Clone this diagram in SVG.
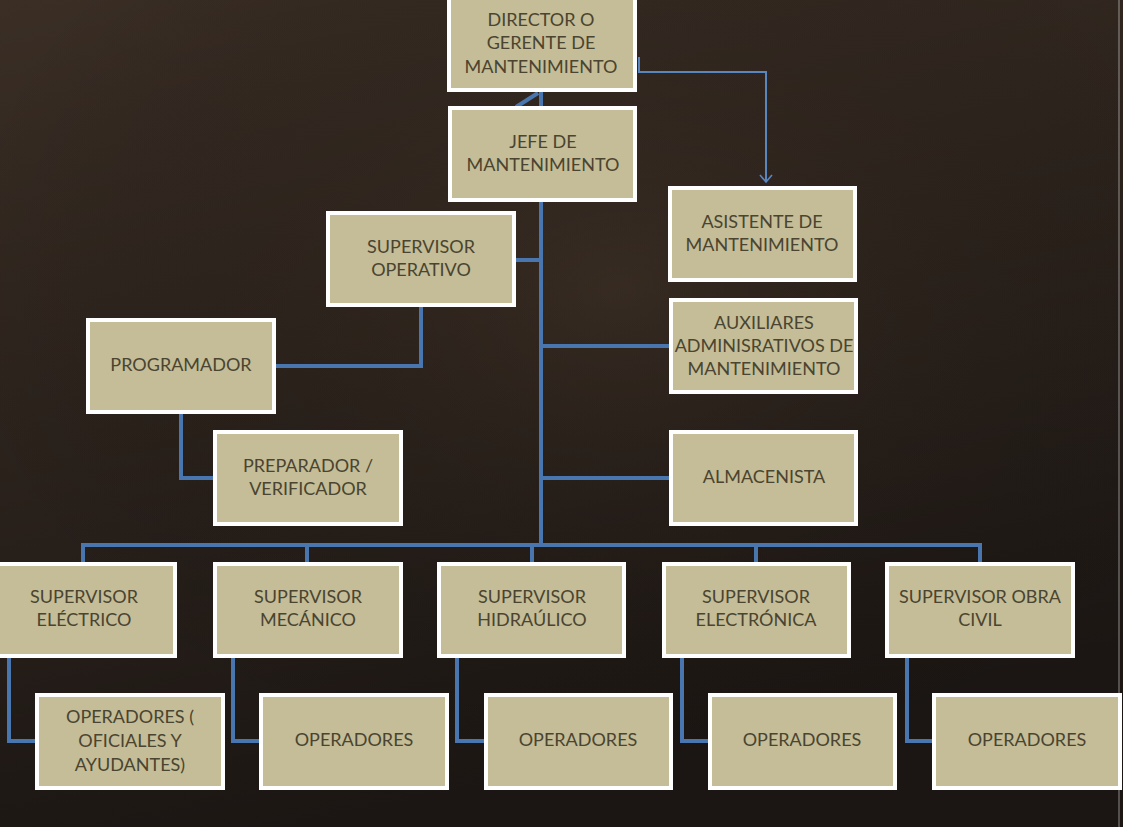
<svg xmlns="http://www.w3.org/2000/svg" width="1123" height="827" viewBox="0 0 1123 827">
<defs>
<linearGradient id="bg" x1="0" y1="0" x2="0.3" y2="1">
<stop offset="0" stop-color="#3a2e25"/>
<stop offset="0.5" stop-color="#2b221c"/>
<stop offset="1" stop-color="#1b1613"/>
</linearGradient>
<radialGradient id="glow" cx="0.55" cy="0.35" r="0.6">
<stop offset="0" stop-color="#4a3a2c" stop-opacity="0.35"/>
<stop offset="1" stop-color="#000" stop-opacity="0"/>
</radialGradient>
<marker id="arr" viewBox="0 0 14 14" refX="12" refY="7" markerWidth="14" markerHeight="14" markerUnits="userSpaceOnUse" orient="auto">
<path d="M5,1 L12,7 L5,13" fill="none" stroke="#5a86c0" stroke-width="1.6"/>
</marker>
<style>
.box{fill:#c4bd97;stroke:#ffffff;stroke-width:4}
.t{font-family:"Lato","Open Sans","Liberation Sans",sans-serif;font-size:18px;fill:#4a4430;text-anchor:middle}
.c{fill:none;stroke:#4a76b0;stroke-width:4;stroke-linejoin:miter}
.a{fill:none;stroke:#5a86c0;stroke-width:2}
</style>
</defs>
<rect x="0" y="0" width="1123" height="827" fill="url(#bg)"/>
<rect x="0" y="0" width="1123" height="827" fill="url(#glow)"/>
<line x1="1119" y1="0" x2="1119" y2="827" stroke="#ffffff" stroke-opacity="0.5" stroke-width="1"/>

<g id="connectors">
<path class="c" d="M541,92 V107"/>
<path class="c" d="M516,107 L538,93" stroke-width="3"/>
<path class="a" d="M639,57 V72 H766 V182" marker-end="url(#arr)"/>
<path class="c" d="M541,201 V545"/>
<path class="c" d="M516,260 H541"/>
<path class="c" d="M541,346 H669"/>
<path class="c" d="M541,478 H669"/>
<path class="c" d="M421,307 V366 H276"/>
<path class="c" d="M181,414 V478 H213"/>
<path class="c" d="M83,562 V545 H980 V562"/>
<path class="c" d="M307,545 V562"/>
<path class="c" d="M532,545 V562"/>
<path class="c" d="M756,545 V562"/>
<path class="c" d="M9,657 V741 H36"/>
<path class="c" d="M233,657 V741 H260"/>
<path class="c" d="M457,657 V741 H484"/>
<path class="c" d="M682,657 V741 H708"/>
<path class="c" d="M907,657 V741 H933"/>
</g>

<g id="director"><rect class="box" x="449" y="-6" width="186" height="96"/>
<text class="t" x="541" y="26">DIRECTOR O</text><text class="t" x="541" y="49">GERENTE DE</text><text class="t" x="541" y="73">MANTENIMIENTO</text></g>
<g id="jefe"><rect class="box" x="450" y="108" width="185" height="92"/>
<text class="t" x="543" y="148">JEFE DE</text><text class="t" x="543" y="171">MANTENIMIENTO</text></g>
<g id="asistente"><rect class="box" x="670" y="188" width="185" height="92"/>
<text class="t" x="762" y="228">ASISTENTE DE</text><text class="t" x="762" y="251">MANTENIMIENTO</text></g>
<g id="supop"><rect class="box" x="328" y="213" width="186" height="92"/>
<text class="t" x="421" y="253">SUPERVISOR</text><text class="t" x="421" y="276">OPERATIVO</text></g>
<g id="programador"><rect class="box" x="88" y="320" width="186" height="92"/>
<text class="t" x="181" y="371">PROGRAMADOR</text></g>
<g id="preparador"><rect class="box" x="215" y="432" width="186" height="92"/>
<text class="t" x="308" y="472">PREPARADOR /</text><text class="t" x="308" y="495">VERIFICADOR</text></g>
<g id="auxiliares"><rect class="box" x="671" y="300" width="185" height="92"/>
<text class="t" x="764" y="329">AUXILIARES</text><text class="t" x="764" y="352">ADMINISRATIVOS DE</text><text class="t" x="764" y="375">MANTENIMIENTO</text></g>
<g id="almacenista"><rect class="box" x="671" y="432" width="185" height="92"/>
<text class="t" x="764" y="483">ALMACENISTA</text></g>

<g id="sup-electrico"><rect class="box" x="-10" y="564" width="185" height="92"/>
<text class="t" x="84" y="603">SUPERVISOR</text><text class="t" x="84" y="626">ELÉCTRICO</text></g>
<g id="sup-mecanico"><rect class="box" x="215" y="564" width="186" height="92"/>
<text class="t" x="308" y="603">SUPERVISOR</text><text class="t" x="308" y="626">MECÁNICO</text></g>
<g id="sup-hidraulico"><rect class="box" x="439" y="564" width="185" height="92"/>
<text class="t" x="532" y="603">SUPERVISOR</text><text class="t" x="532" y="626">HIDRAÚLICO</text></g>
<g id="sup-electronica"><rect class="box" x="664" y="564" width="185" height="92"/>
<text class="t" x="756" y="603">SUPERVISOR</text><text class="t" x="756" y="626">ELECTRÓNICA</text></g>
<g id="sup-obra"><rect class="box" x="887" y="564" width="186" height="92"/>
<text class="t" x="980" y="603">SUPERVISOR OBRA</text><text class="t" x="980" y="626">CIVIL</text></g>

<g id="op-electrico"><rect class="box" x="37" y="695" width="186" height="93"/>
<text class="t" x="130" y="723">OPERADORES (</text><text class="t" x="130" y="747">OFICIALES Y</text><text class="t" x="130" y="771">AYUDANTES)</text></g>
<g id="op-mecanico"><rect class="box" x="261" y="695" width="186" height="93"/>
<text class="t" x="354" y="746">OPERADORES</text></g>
<g id="op-hidraulico"><rect class="box" x="486" y="695" width="185" height="93"/>
<text class="t" x="578" y="746">OPERADORES</text></g>
<g id="op-electronica"><rect class="box" x="710" y="695" width="185" height="93"/>
<text class="t" x="802" y="746">OPERADORES</text></g>
<g id="op-obra"><rect class="box" x="934" y="695" width="186" height="93"/>
<text class="t" x="1027" y="746">OPERADORES</text></g>
</svg>
